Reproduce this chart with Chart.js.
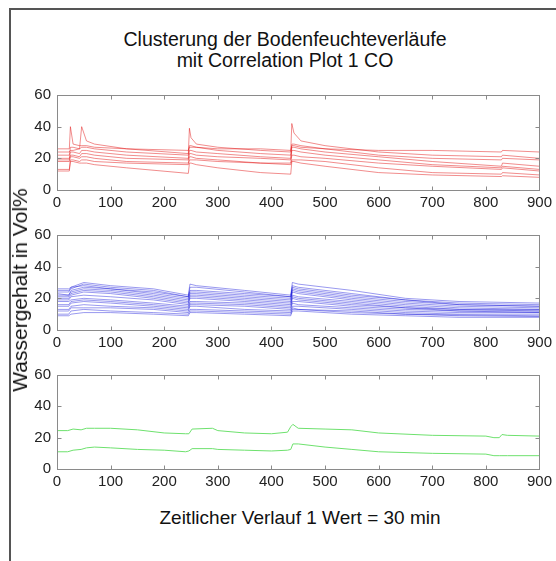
<!DOCTYPE html>
<html>
<head>
<meta charset="utf-8">
<script src="https://cdn.jsdelivr.net/npm/chart.js@4"></script>
<style>
  html, body { margin:0; padding:0; background:#fff; }
  body { width:556px; height:561px; position:relative; overflow:hidden; font-family:"Liberation Sans", Arial, sans-serif; }
  #frame { position:absolute; left:9px; top:8px; width:560px; height:560px; border-top:2px solid #555; border-left:2px solid #555; }
  .cv { position:absolute; left:0; }
  #title { position:absolute; left:85px; width:400px; top:29px; text-align:center; font-size:19.5px; line-height:21px; color:#111; }
  #xlabel { position:absolute; left:100px; width:400px; top:507px; text-align:center; font-size:19px; color:#111; }
  #ylabel { position:absolute; left:20px; top:289.5px; transform:translate(-50%,-50%) rotate(-90deg); white-space:nowrap; font-size:21px; color:#111; }
</style>
</head>
<body>
<div id="frame"></div>
<div id="title">Clusterung der Bodenfeuchteverläufe<br>mit Correlation Plot 1 CO</div>
<canvas id="c1" class="cv" width="556" height="140" style="top:80px"></canvas>
<canvas id="c2" class="cv" width="556" height="140" style="top:220px"></canvas>
<canvas id="c3" class="cv" width="556" height="139" style="top:360px"></canvas>
<div id="ylabel">Wassergehalt in Vol%</div>
<div id="xlabel">Zeitlicher Verlauf 1 Wert = 30 min</div>
<script>
// ---------- data ----------
const xTicks = [0,100,200,300,400,500,600,700,800,900];
const yTicks = [0,20,40,60];

// Cluster 1 (red)
const redX = [0,23,25,30,42,46,55,70,130,245,247,250,260,300,380,436,438,442,455,500,600,700,829,831,900];
const red1 = [26,26,40,29,28,28,28,27,26,25,27,27,27,26,26,25,28,28,27,26,25,25,24,25,24];
const red2 = [24,24,25,25,26,40,31,29,26,23,39,33,29,27,25,24,42,36,31,28,24,22,21,22,20];
const red3 = [22,22,27,27,26,27,27,26,24,22,28,28,27,25,23,22,29,29,28,26,22,20,19,20,19];
const red4 = [20,20,24,24,23,25,25,24,22,20,25,25,24,23,21,20,27,27,26,24,21,18,15,17,15];
const red5 = [19,19,22,22,21,23,23,22,20,19,23,23,22,21,20,19,25,25,24,22,19,16,14,15,13];
const red6 = [18,18,21,21,20,21,21,20,18,17,21,21,20,19,17,17,22,22,21,20,17,15,13,14,12];
const red7 = [13,13,19,19,18,19,19,18,17,16,19,19,19,18,17,16,19,19,19,18,14,11,10,11,9.5];
const red8 = [12,12,18,18,17,17,17,16,14,10.5,17,17,16,14,11,10,18,18,17,15,11,9.5,8.5,9,8];

// Cluster 2 (blue)
const blueX = [0,22,26,50,100,180,245,248,260,350,436,439,450,550,650,750,900];
const blue1  = [26,26,27,30,28,26,22,29,28,25,22,30,29,25,20,18,17];
const blue2  = [25,25,26,29,27,25,21,27,27,24,21,28,27,23,19,17,16];
const blue3  = [24,24,27,28,26,24,21,25,25,23,21,27,26,22,19,16,15];
const blue4  = [23,22,25,27,26,23,20,24,24,22,20,26,25,21,18,16,15];
const blue5  = [22,22,24,26,25,22,19,23,23,21,19,25,24,20,17,15,14];
const blue6  = [21,21,23,25,24,21,18,22,22,20,18,24,23,19,16,14,13];
const blue7  = [20,20,22,24,23,20,17,21,21,19,17,22,21,18,15,13,13];
const blue8  = [19,19,21,22,21,19,16,20,20,18,16,21,20,17,14,13,12];
const blue9  = [18,18,19,20,19,17,15,18,18,17,15,20,19,16,14,12,12];
const blue10 = [16,16,18,19,18,16,14,17,17,16,14,18,18,15,13,12,11];
const blue11 = [15,15,17,18,17,15,13,16,16,15,13,17,16,14,12,11,11];
const blue12 = [13,13,15,16,15,14,12,15,15,13,12,15,15,13,11,10,10];
const blue13 = [12,12,14,14,14,13,11,13,13,12,11,14,13,12,10,9.5,9];
const blue14 = [10,10,12,13,12,11,10,12,12,11,10,13,13,11,10,9,8.5];
const blue15 = [9,9,10,11,11,10,9,11,11,10,9,12,12,10,9,8,8];

// Cluster 3 (green)
const greenX = [0,20,30,45,55,70,100,150,200,240,246,252,290,300,350,400,430,436,440,450,500,550,600,700,800,815,825,830,840,900];
const green1 = [24.5,24.5,25.5,25,26,26,26,25,23,22.5,22.5,25.5,26,24.5,23,22.5,23.5,27,28.5,26,25.5,25,23,21.5,21,20,20,22,21.5,21];
const green2 = [11,11,12,12.5,13.5,14,13.5,12.5,12,11,11.5,13,13,12.5,12,11.5,12,12.5,16,16,14,12.5,11,10,9.5,8.5,8.5,8.5,8.5,8.5];

const redSeries = [red1,red2,red3,red4,red5,red6,red7,red8];
const blueSeries = [blue1,blue2,blue3,blue4,blue5,blue6,blue7,blue8,blue9,blue10,blue11,blue12,blue13,blue14,blue15];
const greenSeries = [green1,green2];

// ---------- drawing ----------
const boxPlugin = {
  id: 'matlabBox',
  afterDatasetsDraw(chart) {
    const {ctx, chartArea: a, scales} = chart;
    ctx.save();
    ctx.strokeStyle = '#8a8a8a';
    ctx.lineWidth = 1;
    const L = Math.round(a.left) + 0.5, R = Math.round(a.right) + 0.5;
    const T = Math.round(a.top) + 0.5, B = Math.round(a.bottom) + 0.5;
    ctx.strokeRect(L, T, R - L, B - T);
    ctx.beginPath();
    scales.x.ticks.forEach(t => {
      const px = Math.round(scales.x.getPixelForValue(t.value)) + 0.5;
      ctx.moveTo(px, B); ctx.lineTo(px, B - 4);
      ctx.moveTo(px, T); ctx.lineTo(px, T + 4);
    });
    scales.y.ticks.forEach(t => {
      const py = Math.round(scales.y.getPixelForValue(t.value)) + 0.5;
      ctx.moveTo(L, py); ctx.lineTo(L + 4, py);
      ctx.moveTo(R, py); ctx.lineTo(R - 4, py);
    });
    ctx.stroke();
    ctx.restore();
  }
};

function makeChart(id, xs, seriesList, color, xAxisH) {
  const datasets = seriesList.map(s => ({
    data: s.map((v, i) => ({x: xs[i], y: v})),
    borderColor: color,
    borderWidth: 1,
    pointRadius: 0,
    tension: 0,
    fill: false
  }));
  return new Chart(document.getElementById(id), {
    type: 'line',
    data: { datasets },
    plugins: [boxPlugin],
    options: {
      responsive: false,
      animation: false,
      events: [],
      layout: { padding: { left: 17, right: 16, top: 10, bottom: 0 } },
      plugins: { legend: { display: false }, tooltip: { enabled: false }, title: { display: false } },
      scales: {
        x: {
          type: 'linear', min: 0, max: 900,
          afterBuildTicks: s => { s.ticks = xTicks.map(v => ({value: v})); },
          afterFit: s => { s.height = xAxisH; },
          grid: { display: false, drawTicks: false },
          border: { display: false },
          ticks: { color: '#222', font: { family: 'Liberation Sans', size: 15 }, padding: 4, maxRotation: 0, autoSkip: false }
        },
        y: {
          type: 'linear', min: 0, max: 60,
          afterBuildTicks: s => { s.ticks = yTicks.map(v => ({value: v})); },
          afterFit: s => { s.width = 40; },
          grid: { display: false, drawTicks: false },
          border: { display: false },
          ticks: { color: '#222', font: { family: 'Liberation Sans', size: 15 }, padding: 6 }
        }
      }
    }
  });
}

makeChart('c1', redX, redSeries, 'rgba(225,0,0,0.45)', 30);
makeChart('c2', blueX, blueSeries, 'rgba(0,0,215,0.4)', 30);
makeChart('c3', greenX, greenSeries, 'rgb(110,225,110)', 30);
</script>
</body>
</html>
